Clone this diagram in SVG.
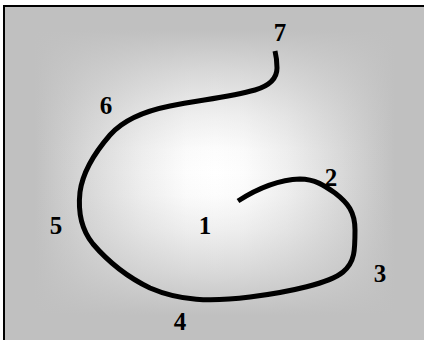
<svg xmlns="http://www.w3.org/2000/svg" width="424" height="340" viewBox="0 0 424 340">
  <defs>
    <linearGradient id="gh" gradientUnits="userSpaceOnUse" x1="35" y1="0" x2="395" y2="0">
      <stop offset="0" stop-color="#c0c0c0" stop-opacity="1"/>
      <stop offset="0.15" stop-color="#c0c0c0" stop-opacity="0.6"/>
      <stop offset="0.3" stop-color="#c0c0c0" stop-opacity="0.25"/>
      <stop offset="0.42" stop-color="#c0c0c0" stop-opacity="0.04"/>
      <stop offset="0.5" stop-color="#c0c0c0" stop-opacity="0"/>
      <stop offset="0.58" stop-color="#c0c0c0" stop-opacity="0.04"/>
      <stop offset="0.7" stop-color="#c0c0c0" stop-opacity="0.25"/>
      <stop offset="0.85" stop-color="#c0c0c0" stop-opacity="0.6"/>
      <stop offset="1" stop-color="#c0c0c0" stop-opacity="1"/>
    </linearGradient>
    <linearGradient id="gv" gradientUnits="userSpaceOnUse" x1="0" y1="30" x2="0" y2="315">
      <stop offset="0" stop-color="#c0c0c0" stop-opacity="1"/>
      <stop offset="0.15" stop-color="#c0c0c0" stop-opacity="0.6"/>
      <stop offset="0.3" stop-color="#c0c0c0" stop-opacity="0.25"/>
      <stop offset="0.42" stop-color="#c0c0c0" stop-opacity="0.04"/>
      <stop offset="0.5" stop-color="#c0c0c0" stop-opacity="0"/>
      <stop offset="0.58" stop-color="#c0c0c0" stop-opacity="0.04"/>
      <stop offset="0.7" stop-color="#c0c0c0" stop-opacity="0.25"/>
      <stop offset="0.85" stop-color="#c0c0c0" stop-opacity="0.6"/>
      <stop offset="1" stop-color="#c0c0c0" stop-opacity="1"/>
    </linearGradient>
    <style>
      .lbl { font-family: "Liberation Serif", "Times New Roman", serif; font-weight: bold; font-size: 25px; fill: #000; text-anchor: middle; }
      .curve { fill: none; stroke: #000; stroke-width: 5; stroke-linecap: butt; stroke-linejoin: round; }
    </style>
  </defs>
  <g id="background">
    <rect x="4" y="6" width="424" height="340" fill="#ffffff"/>
    <rect x="4" y="6" width="424" height="340" fill="url(#gh)"/>
    <rect x="4" y="6" width="424" height="340" fill="url(#gv)"/>
    <rect x="4" y="6" width="424" height="340" fill="none" stroke="#000" stroke-width="2"/>
  </g>
  <g id="connectors">
    <path class="curve" d="M238,201 C255,190 275,180 300,179 C315,179 325,186 335,193 C348,203 355,212 355,230 C355,250 355,262 343,272 C330,283 290,292 250,297 C210,302 180,301 150,288 C125,276 105,258 93,244 C80,228 78,210 80,192 C83,170 97,150 110,135 C125,118 150,110 170,106 C200,100 230,97 255,90 C272,85 277,77 277,68 C277,60 276,55 275,51"/>
  </g>
  <g id="label-1"><text class="lbl" x="205" y="234">1</text></g>
  <g id="label-2"><text class="lbl" x="331" y="186">2</text></g>
  <g id="label-3"><text class="lbl" x="380" y="282">3</text></g>
  <g id="label-4"><text class="lbl" x="180" y="330">4</text></g>
  <g id="label-5"><text class="lbl" x="56" y="234">5</text></g>
  <g id="label-6"><text class="lbl" x="106" y="114">6</text></g>
  <g id="label-7"><text class="lbl" x="280" y="41">7</text></g>
</svg>
